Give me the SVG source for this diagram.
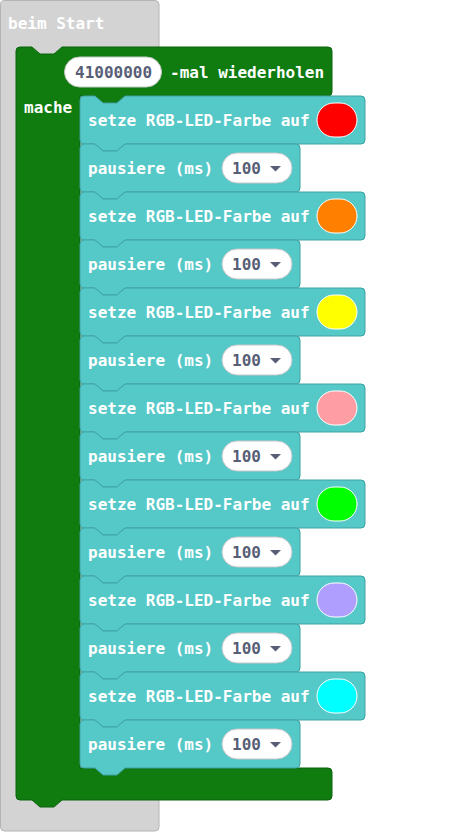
<svg xmlns="http://www.w3.org/2000/svg" width="469" height="832" viewBox="0 0 469 832">
  <defs>
    <style>
      .lbl { font-family: "DejaVu Sans Mono", "Liberation Mono", monospace; font-weight: bold; font-size: 16px; fill: #ffffff; }
      .num { font-family: "DejaVu Sans Mono", "Liberation Mono", monospace; font-weight: bold; font-size: 16px; fill: #575e75; }
      .hat { fill: #d3d3d3; stroke: #b4b4b4; stroke-width: 1; }
      .loop { fill: #107c10; stroke: #0c630c; stroke-width: 1; }
      .blk { fill: #55c8c8; stroke: #40a3a3; stroke-width: 1; }
      .pill { fill: #ffffff; stroke: #c6c6c6; stroke-width: 1; }
      .swatch { stroke: #ffffff; stroke-width: 1; }
    </style>
    <!-- stack block outlines, origin at top-left -->
    <path id="setzeShape" d="M0,4 a4,4 0 0 1 4,-4 H15 l8,7 h14 l8,-7 H281 a4,4 0 0 1 4,4 V44 a4,4 0 0 1 -4,4 H45 l-8,7 h-14 l-8,-7 H4 a4,4 0 0 1 -4,-4 Z"/>
    <path id="pauseShape" d="M0,4 a4,4 0 0 1 4,-4 H15 l8,7 h14 l8,-7 H216 a4,4 0 0 1 4,4 V44 a4,4 0 0 1 -4,4 H45 l-8,7 h-14 l-8,-7 H4 a4,4 0 0 1 -4,-4 Z"/>
    <path id="arrow" d="M0,0 h11 l-5.5,5.5 Z"/>
  </defs>

  <!-- on-start hat block -->
  <g id="beim-start">
    <path class="hat" d="M0.5,4.5 a4,4 0 0 1 4,-4 H155 a4,4 0 0 1 4,4 V827 a4,4 0 0 1 -4,4 H4.5 a4,4 0 0 1 -4,-4 Z"/>
    <text class="lbl" x="8" y="29">beim Start</text>
  </g>

  <!-- repeat loop -->
  <g id="repeat-loop">
    <path class="loop" d="M16,51 a4,4 0 0 1 4,-4 H32 l8,7 h14 l8,-7 H328 a4,4 0 0 1 4,4 V92 a4,4 0 0 1 -4,4 H125 l-8,7 h-14 l-8,-7 H80 V768 H328 a4,4 0 0 1 4,4 V796 a4,4 0 0 1 -4,4 H62 l-8,7 h-14 l-8,-7 H20 a4,4 0 0 1 -4,-4 Z"/>
    <rect class="pill" x="64.5" y="57" width="97" height="30" rx="15" stroke="none"/>
    <text class="num" x="75" y="77.5">41000000</text>
    <text class="lbl" x="170" y="77.5">-mal wiederholen</text>
    <text class="lbl" x="24" y="113">mache</text>
  </g>

  <!-- loop body -->
  <g id="set-red" transform="translate(80,96)">
    <use href="#setzeShape" class="blk"/>
    <text class="lbl" x="8" y="29.5">setze RGB-LED-Farbe auf</text>
    <rect class="swatch" x="237" y="7" width="40" height="34" rx="17" fill="#ff0000"/>
  </g>
  <g id="pause-1" transform="translate(80,144)">
    <use href="#pauseShape" class="blk"/>
    <text class="lbl" x="8" y="29.5">pausiere (ms)</text>
    <rect class="pill" x="142" y="9" width="70" height="30" rx="15"/>
    <text class="num" x="152" y="29.5">100</text>
    <use href="#arrow" x="190" y="22" fill="#575e75"/>
  </g>
  <g id="set-orange" transform="translate(80,192)">
    <use href="#setzeShape" class="blk"/>
    <text class="lbl" x="8" y="29.5">setze RGB-LED-Farbe auf</text>
    <rect class="swatch" x="237" y="7" width="40" height="34" rx="17" fill="#ff8000"/>
  </g>
  <g id="pause-2" transform="translate(80,240)">
    <use href="#pauseShape" class="blk"/>
    <text class="lbl" x="8" y="29.5">pausiere (ms)</text>
    <rect class="pill" x="142" y="9" width="70" height="30" rx="15"/>
    <text class="num" x="152" y="29.5">100</text>
    <use href="#arrow" x="190" y="22" fill="#575e75"/>
  </g>
  <g id="set-yellow" transform="translate(80,288)">
    <use href="#setzeShape" class="blk"/>
    <text class="lbl" x="8" y="29.5">setze RGB-LED-Farbe auf</text>
    <rect class="swatch" x="237" y="7" width="40" height="34" rx="17" fill="#ffff00"/>
  </g>
  <g id="pause-3" transform="translate(80,336)">
    <use href="#pauseShape" class="blk"/>
    <text class="lbl" x="8" y="29.5">pausiere (ms)</text>
    <rect class="pill" x="142" y="9" width="70" height="30" rx="15"/>
    <text class="num" x="152" y="29.5">100</text>
    <use href="#arrow" x="190" y="22" fill="#575e75"/>
  </g>
  <g id="set-pink" transform="translate(80,384)">
    <use href="#setzeShape" class="blk"/>
    <text class="lbl" x="8" y="29.5">setze RGB-LED-Farbe auf</text>
    <rect class="swatch" x="237" y="7" width="40" height="34" rx="17" fill="#ff9da5"/>
  </g>
  <g id="pause-4" transform="translate(80,432)">
    <use href="#pauseShape" class="blk"/>
    <text class="lbl" x="8" y="29.5">pausiere (ms)</text>
    <rect class="pill" x="142" y="9" width="70" height="30" rx="15"/>
    <text class="num" x="152" y="29.5">100</text>
    <use href="#arrow" x="190" y="22" fill="#575e75"/>
  </g>
  <g id="set-green" transform="translate(80,480)">
    <use href="#setzeShape" class="blk"/>
    <text class="lbl" x="8" y="29.5">setze RGB-LED-Farbe auf</text>
    <rect class="swatch" x="237" y="7" width="40" height="34" rx="17" fill="#00ff00"/>
  </g>
  <g id="pause-5" transform="translate(80,528)">
    <use href="#pauseShape" class="blk"/>
    <text class="lbl" x="8" y="29.5">pausiere (ms)</text>
    <rect class="pill" x="142" y="9" width="70" height="30" rx="15"/>
    <text class="num" x="152" y="29.5">100</text>
    <use href="#arrow" x="190" y="22" fill="#575e75"/>
  </g>
  <g id="set-purple" transform="translate(80,576)">
    <use href="#setzeShape" class="blk"/>
    <text class="lbl" x="8" y="29.5">setze RGB-LED-Farbe auf</text>
    <rect class="swatch" x="237" y="7" width="40" height="34" rx="17" fill="#b09eff"/>
  </g>
  <g id="pause-6" transform="translate(80,624)">
    <use href="#pauseShape" class="blk"/>
    <text class="lbl" x="8" y="29.5">pausiere (ms)</text>
    <rect class="pill" x="142" y="9" width="70" height="30" rx="15"/>
    <text class="num" x="152" y="29.5">100</text>
    <use href="#arrow" x="190" y="22" fill="#575e75"/>
  </g>
  <g id="set-cyan" transform="translate(80,672)">
    <use href="#setzeShape" class="blk"/>
    <text class="lbl" x="8" y="29.5">setze RGB-LED-Farbe auf</text>
    <rect class="swatch" x="237" y="7" width="40" height="34" rx="17" fill="#00ffff"/>
  </g>
  <g id="pause-7" transform="translate(80,720)">
    <use href="#pauseShape" class="blk"/>
    <text class="lbl" x="8" y="29.5">pausiere (ms)</text>
    <rect class="pill" x="142" y="9" width="70" height="30" rx="15"/>
    <text class="num" x="152" y="29.5">100</text>
    <use href="#arrow" x="190" y="22" fill="#575e75"/>
  </g>

  <!-- blocks are stacked directly; no separate connectors -->
  <g id="connectors"/>
</svg>
